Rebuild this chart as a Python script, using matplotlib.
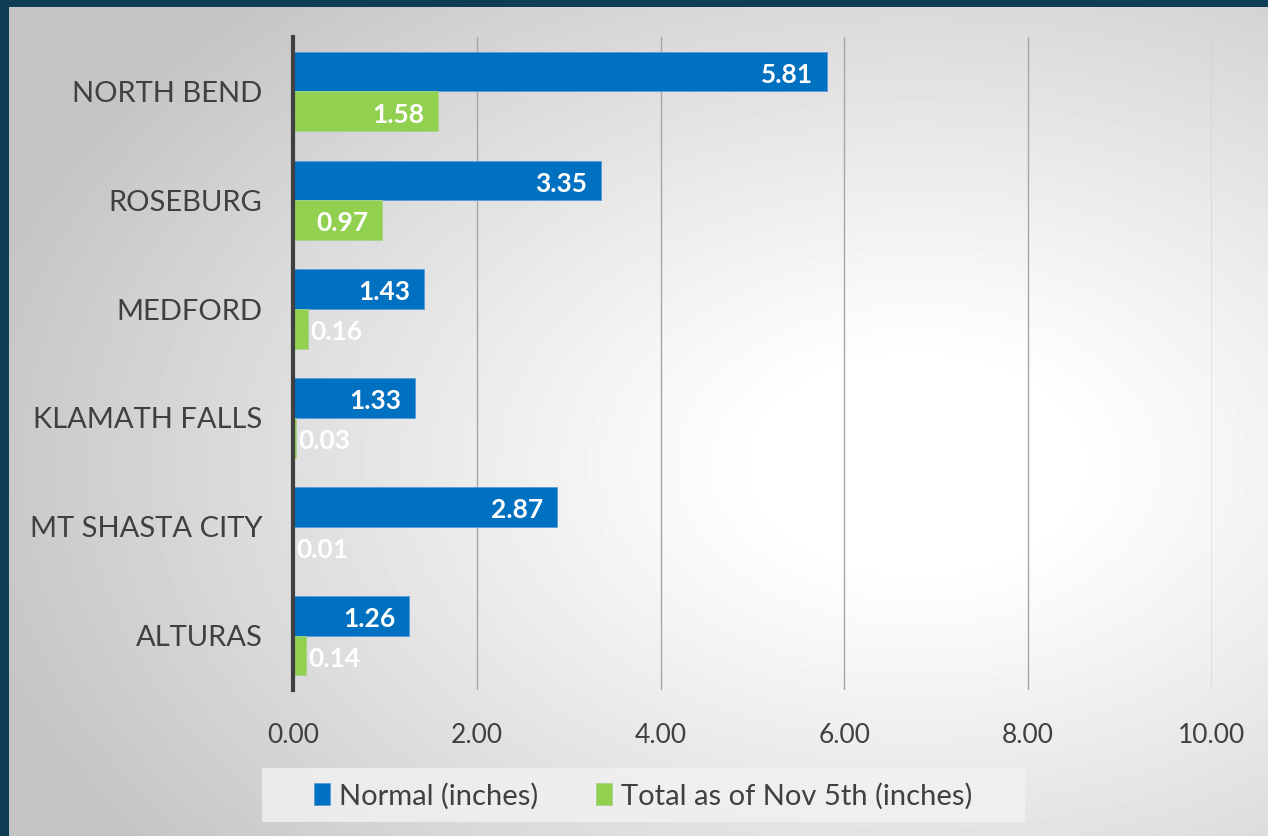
import numpy as np
import matplotlib.pyplot as plt
from matplotlib.patches import Rectangle

# données
stations = ['NORTH BEND', 'ROSEBURG', 'MEDFORD', 'KLAMATH FALLS', 'MT SHASTA CITY', 'ALTURAS']
normal = [5.81, 3.35, 1.43, 1.33, 2.87, 1.26]
total = [1.58, 0.97, 0.16, 0.03, 0.01, 0.14]
xticks = [0, 2, 4, 6, 8, 10]

blue = '#0070c0'
green = '#92d050'
txt = '#404040'

plt.rcParams['font.family'] = ['Lato', 'DejaVu Sans']

fig = plt.figure(figsize=(12.68, 8.36), dpi=100)
fig.patch.set_facecolor('#0f3d55')

# fond avec dégradé radial
W, H = 1268, 836
bg = fig.add_axes([9 / W, 0, 1 - 9 / W, 1 - 7 / H])
yy, xx = np.mgrid[0:200, 0:300]
cx, cy = 0.72 * 300, 0.55 * 200
d = np.sqrt(((xx - cx) / 300) ** 2 + ((yy - cy) / 200) ** 2)
val = 1.0 - np.clip((d - 0.12) / 0.65, 0, 1) ** 1.1 * 0.23
bg.imshow(val, cmap='gray', vmin=0, vmax=1, aspect='auto', extent=[0, 1, 1, 0], interpolation='bilinear')
bg.set_axis_off()

ax = fig.add_axes([293 / W, 1 - 690 / H, (1212 - 293) / W, (690 - 37) / H])
ax.patch.set_alpha(0)

y = np.arange(len(stations))
h = 0.365
ax.barh(y - h / 2, normal, height=h, color=blue, edgecolor='#5b9bd5', linewidth=0.6)
ax.barh(y + h / 2, total, height=h, color=green, edgecolor='#a9d18e', linewidth=0.6)

for i in range(len(stations)):
    ax.text(normal[i] - 0.15, y[i] - h / 2 + 0.03, f'{normal[i]:.2f}', color='white',
            fontsize=19, fontweight='bold', ha='right', va='center')
    if total[i] >= 0.5:
        ax.text(total[i] - 0.15, y[i] + h / 2 + 0.03, f'{total[i]:.2f}', color='white',
                fontsize=19, fontweight='bold', ha='right', va='center')
    else:
        ax.text(total[i] + 0.03, y[i] + h / 2 + 0.03, f'{total[i]:.2f}', color='white',
                fontsize=19, fontweight='bold', ha='left', va='center')

ax.set_xlim(0, 10)
ax.set_ylim(len(stations) - 0.5, -0.5)
ax.set_xticks(xticks)
ax.set_xticklabels([f'{t:.2f}' for t in xticks], fontsize=19, color=txt)
ax.set_yticks(y)
ax.set_yticklabels(stations, fontsize=21, color=txt)
ax.tick_params(length=0)
ax.tick_params(axis='x', pad=24)
ax.tick_params(axis='y', pad=22)
ax.grid(axis='x', color='#a6a6a6', linewidth=1)
ax.set_axisbelow(True)
for s in ['top', 'right', 'bottom']:
    ax.spines[s].set_visible(False)
ax.spines['left'].set_color('#404040')
ax.spines['left'].set_linewidth(3)

# légende
fig.patches.append(Rectangle((262 / W, 1 - 822 / H), (1025 - 262) / W, (822 - 768) / H,
                             transform=fig.transFigure, facecolor='#f2f2f2', edgecolor='none', alpha=0.8))
leg = fig.legend(['Normal (inches)', 'Total as of Nov 5th (inches)'], loc='center',
                 bbox_to_anchor=(643 / W, 1 - 796 / H), ncol=2, frameon=False, fontsize=21,
                 handlelength=0.55, handleheight=0.8, handletextpad=0.3, columnspacing=2.0)
for t in leg.get_texts():
    t.set_color(txt)

plt.savefig('out.png', dpi=100)
